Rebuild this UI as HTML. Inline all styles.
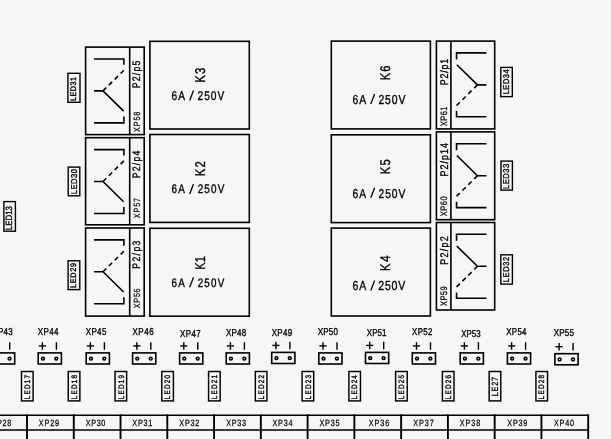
<!DOCTYPE html>
<html><head><meta charset="utf-8"><style>
html,body{margin:0;padding:0;background:#f6f6f6;}
svg{display:block;will-change:transform;}
text{font-family:"Liberation Sans",sans-serif;font-kerning:none;text-rendering:geometricPrecision;}
</style></head><body>
<svg width="611" height="439" viewBox="0 0 611 439">
<rect width="611" height="439" fill="#f6f6f6"/>
<rect x="85.60" y="47.10" width="58.60" height="87.50" fill="none" stroke="#000" stroke-width="1.6"/>
<line x1="129.70" y1="47.10" x2="129.70" y2="134.60" stroke="#000" stroke-width="1.6" />
<path d="M94.00,59.00 H123.90 V64.80" fill="none" stroke="#000" stroke-width="1.6" />
<path d="M123.90,70.30 L103.00,90.90" fill="none" stroke="#000" stroke-width="1.6" stroke-dasharray="4.6 3.65"/>
<path d="M94.00,90.90 H103.00 L123.60,111.10" fill="none" stroke="#000" stroke-width="1.6" />
<path d="M94.00,122.90 H123.90 V116.40" fill="none" stroke="#000" stroke-width="1.6" />
<rect x="85.60" y="137.70" width="58.60" height="87.10" fill="none" stroke="#000" stroke-width="1.6"/>
<line x1="129.70" y1="137.70" x2="129.70" y2="224.80" stroke="#000" stroke-width="1.6" />
<path d="M94.00,149.60 H123.90 V155.40" fill="none" stroke="#000" stroke-width="1.6" />
<path d="M123.90,160.90 L103.00,181.50" fill="none" stroke="#000" stroke-width="1.6" stroke-dasharray="4.6 3.65"/>
<path d="M94.00,181.50 H103.00 L123.60,201.70" fill="none" stroke="#000" stroke-width="1.6" />
<path d="M94.00,213.50 H123.90 V207.00" fill="none" stroke="#000" stroke-width="1.6" />
<rect x="85.60" y="228.00" width="58.60" height="88.10" fill="none" stroke="#000" stroke-width="1.6"/>
<line x1="129.70" y1="228.00" x2="129.70" y2="316.10" stroke="#000" stroke-width="1.6" />
<path d="M94.00,239.90 H123.90 V245.70" fill="none" stroke="#000" stroke-width="1.6" />
<path d="M123.90,251.20 L103.00,271.80" fill="none" stroke="#000" stroke-width="1.6" stroke-dasharray="4.6 3.65"/>
<path d="M94.00,271.80 H103.00 L123.60,292.00" fill="none" stroke="#000" stroke-width="1.6" />
<path d="M94.00,303.80 H123.90 V297.30" fill="none" stroke="#000" stroke-width="1.6" />
<rect x="436.40" y="41.10" width="58.30" height="87.80" fill="none" stroke="#000" stroke-width="1.6"/>
<line x1="450.90" y1="41.10" x2="450.90" y2="128.90" stroke="#000" stroke-width="1.6" />
<g transform="translate(465.55,84.90) rotate(180) translate(-114.90,-90.80)">
<path d="M94.00,58.90 H123.90 V64.70" fill="none" stroke="#000" stroke-width="1.6" />
<path d="M123.90,70.20 L103.00,90.80" fill="none" stroke="#000" stroke-width="1.6" stroke-dasharray="4.6 3.65"/>
<path d="M94.00,90.80 H103.00 L123.60,111.00" fill="none" stroke="#000" stroke-width="1.6" />
<path d="M94.00,122.80 H123.90 V116.30" fill="none" stroke="#000" stroke-width="1.6" />
</g>
<rect x="436.40" y="131.90" width="58.30" height="87.80" fill="none" stroke="#000" stroke-width="1.6"/>
<line x1="450.90" y1="131.90" x2="450.90" y2="219.70" stroke="#000" stroke-width="1.6" />
<g transform="translate(465.55,175.70) rotate(180) translate(-114.90,-90.80)">
<path d="M94.00,58.90 H123.90 V64.70" fill="none" stroke="#000" stroke-width="1.6" />
<path d="M123.90,70.20 L103.00,90.80" fill="none" stroke="#000" stroke-width="1.6" stroke-dasharray="4.6 3.65"/>
<path d="M94.00,90.80 H103.00 L123.60,111.00" fill="none" stroke="#000" stroke-width="1.6" />
<path d="M94.00,122.80 H123.90 V116.30" fill="none" stroke="#000" stroke-width="1.6" />
</g>
<rect x="436.40" y="222.50" width="58.30" height="87.50" fill="none" stroke="#000" stroke-width="1.6"/>
<line x1="450.90" y1="222.50" x2="450.90" y2="310.00" stroke="#000" stroke-width="1.6" />
<g transform="translate(465.55,266.30) rotate(180) translate(-114.90,-90.80)">
<path d="M94.00,58.90 H123.90 V64.70" fill="none" stroke="#000" stroke-width="1.6" />
<path d="M123.90,70.20 L103.00,90.80" fill="none" stroke="#000" stroke-width="1.6" stroke-dasharray="4.6 3.65"/>
<path d="M94.00,90.80 H103.00 L123.60,111.00" fill="none" stroke="#000" stroke-width="1.6" />
<path d="M94.00,122.80 H123.90 V116.30" fill="none" stroke="#000" stroke-width="1.6" />
</g>
<rect x="149.90" y="41.30" width="99.40" height="87.70" fill="none" stroke="#000" stroke-width="1.6"/>
<rect x="149.90" y="134.50" width="99.40" height="87.90" fill="none" stroke="#000" stroke-width="1.6"/>
<rect x="149.90" y="228.30" width="99.40" height="87.90" fill="none" stroke="#000" stroke-width="1.6"/>
<rect x="331.30" y="41.10" width="99.10" height="87.80" fill="none" stroke="#000" stroke-width="1.6"/>
<rect x="331.30" y="134.80" width="99.10" height="87.80" fill="none" stroke="#000" stroke-width="1.6"/>
<rect x="331.30" y="228.10" width="99.10" height="87.90" fill="none" stroke="#000" stroke-width="1.6"/>
<text transform="translate(204.82,82.76) rotate(-90) scale(0.800,1)" font-size="14.17" letter-spacing="1.51" fill="#000" stroke="#000" stroke-width="0.35">K3</text>
<text transform="translate(171.46,100.12) scale(0.800,1)" font-size="12.72" letter-spacing="1.27" fill="#000" stroke="#000" stroke-width="0.35">6A   250V</text>
<line x1="193.50" y1="90.50" x2="189.70" y2="100.50" stroke="#000" stroke-width="1.3" />
<text transform="translate(204.82,176.16) rotate(-90) scale(0.800,1)" font-size="14.17" letter-spacing="1.23" fill="#000" stroke="#000" stroke-width="0.35">K2</text>
<text transform="translate(171.47,193.42) scale(0.800,1)" font-size="12.43" letter-spacing="1.43" fill="#000" stroke="#000" stroke-width="0.35">6A   250V</text>
<line x1="193.50" y1="184.00" x2="189.70" y2="194.00" stroke="#000" stroke-width="1.3" />
<text transform="translate(204.82,269.74) rotate(-90) scale(0.785,1)" font-size="14.17" letter-spacing="0.00" fill="#000" stroke="#000" stroke-width="0.35">K1</text>
<text transform="translate(171.48,286.62) scale(0.800,1)" font-size="12.28" letter-spacing="1.51" fill="#000" stroke="#000" stroke-width="0.35">6A   250V</text>
<line x1="193.50" y1="277.30" x2="189.70" y2="287.30" stroke="#000" stroke-width="1.3" />
<text transform="translate(390.12,80.25) rotate(-90) scale(0.800,1)" font-size="14.03" letter-spacing="1.30" fill="#000" stroke="#000" stroke-width="0.35">K6</text>
<text transform="translate(352.55,103.83) scale(0.800,1)" font-size="13.01" letter-spacing="1.11" fill="#000" stroke="#000" stroke-width="0.35">6A   250V</text>
<line x1="374.60" y1="94.00" x2="370.80" y2="104.00" stroke="#000" stroke-width="1.3" />
<text transform="translate(390.12,174.15) rotate(-90) scale(0.800,1)" font-size="14.03" letter-spacing="1.52" fill="#000" stroke="#000" stroke-width="0.35">K5</text>
<text transform="translate(352.55,197.52) scale(0.800,1)" font-size="12.86" letter-spacing="1.19" fill="#000" stroke="#000" stroke-width="0.35">6A   250V</text>
<line x1="374.60" y1="187.80" x2="370.80" y2="197.80" stroke="#000" stroke-width="1.3" />
<text transform="translate(390.12,270.95) rotate(-90) scale(0.800,1)" font-size="14.03" letter-spacing="2.09" fill="#000" stroke="#000" stroke-width="0.35">K4</text>
<text transform="translate(352.54,290.32) scale(0.800,1)" font-size="13.15" letter-spacing="1.03" fill="#000" stroke="#000" stroke-width="0.35">6A   250V</text>
<line x1="374.60" y1="280.40" x2="370.80" y2="290.40" stroke="#000" stroke-width="1.3" />
<text transform="translate(139.72,88.34) rotate(-90) scale(0.800,1)" font-size="10.83" letter-spacing="1.59" fill="#000" stroke="#000" stroke-width="0.35">P2/p5</text>
<text transform="translate(139.72,178.34) rotate(-90) scale(0.800,1)" font-size="10.83" letter-spacing="1.59" fill="#000" stroke="#000" stroke-width="0.35">P2/p4</text>
<text transform="translate(139.72,268.74) rotate(-90) scale(0.800,1)" font-size="10.83" letter-spacing="1.72" fill="#000" stroke="#000" stroke-width="0.35">P2/p3</text>
<text transform="translate(139.89,132.05) rotate(-90) scale(0.800,1)" font-size="8.98" letter-spacing="1.16" fill="#000" stroke="#000" stroke-width="0.22">XP58</text>
<text transform="translate(139.89,218.15) rotate(-90) scale(0.800,1)" font-size="8.98" letter-spacing="1.09" fill="#000" stroke="#000" stroke-width="0.22">XP57</text>
<text transform="translate(139.89,308.15) rotate(-90) scale(0.800,1)" font-size="8.98" letter-spacing="0.91" fill="#000" stroke="#000" stroke-width="0.22">XP56</text>
<text transform="translate(447.72,85.15) rotate(-90) scale(0.800,1)" font-size="11.12" letter-spacing="0.99" fill="#000" stroke="#000" stroke-width="0.35">P2/p1</text>
<text transform="translate(447.72,176.45) rotate(-90) scale(0.800,1)" font-size="11.12" letter-spacing="1.31" fill="#000" stroke="#000" stroke-width="0.35">P2/p14</text>
<text transform="translate(447.72,264.75) rotate(-90) scale(0.800,1)" font-size="11.12" letter-spacing="1.65" fill="#000" stroke="#000" stroke-width="0.35">P2/p2</text>
<text transform="translate(446.79,126.16) rotate(-90) scale(0.800,1)" font-size="9.42" letter-spacing="0.54" fill="#000" stroke="#000" stroke-width="0.22">XP61</text>
<text transform="translate(446.79,216.26) rotate(-90) scale(0.800,1)" font-size="9.42" letter-spacing="0.59" fill="#000" stroke="#000" stroke-width="0.22">XP60</text>
<text transform="translate(446.79,305.96) rotate(-90) scale(0.800,1)" font-size="9.42" letter-spacing="0.49" fill="#000" stroke="#000" stroke-width="0.22">XP59</text>
<rect x="67.90" y="73.30" width="12.10" height="29.00" fill="none" stroke="#000" stroke-width="1.4"/>
<text transform="translate(75.73,101.02) rotate(-90) scale(0.900,1)" font-size="8.07" letter-spacing="0.53" fill="#000" stroke="#000" stroke-width="0.35">LED31</text>
<rect x="68.20" y="167.10" width="11.60" height="28.70" fill="none" stroke="#000" stroke-width="1.4"/>
<text transform="translate(76.83,194.15) rotate(-90) scale(0.900,1)" font-size="8.50" letter-spacing="0.49" fill="#000" stroke="#000" stroke-width="0.35">LED30</text>
<rect x="68.10" y="260.80" width="11.70" height="28.80" fill="none" stroke="#000" stroke-width="1.4"/>
<text transform="translate(75.73,288.12) rotate(-90) scale(0.900,1)" font-size="8.07" letter-spacing="0.83" fill="#000" stroke="#000" stroke-width="0.35">LED29</text>
<rect x="500.80" y="67.40" width="11.50" height="29.20" fill="none" stroke="#000" stroke-width="1.4"/>
<text transform="translate(509.02,94.34) rotate(-90) scale(0.900,1)" font-size="8.36" letter-spacing="0.58" fill="#000" stroke="#000" stroke-width="0.35">LED34</text>
<rect x="501.00" y="161.10" width="11.40" height="29.00" fill="none" stroke="#000" stroke-width="1.4"/>
<text transform="translate(509.12,189.05) rotate(-90) scale(0.900,1)" font-size="8.50" letter-spacing="0.50" fill="#000" stroke="#000" stroke-width="0.35">LED33</text>
<rect x="500.80" y="254.80" width="11.60" height="29.30" fill="none" stroke="#000" stroke-width="1.4"/>
<text transform="translate(508.82,282.14) rotate(-90) scale(0.900,1)" font-size="8.36" letter-spacing="0.62" fill="#000" stroke="#000" stroke-width="0.35">LED32</text>
<rect x="3.90" y="201.60" width="11.50" height="29.60" fill="none" stroke="#000" stroke-width="1.4"/>
<text transform="translate(12.12,230.17) rotate(-90) scale(0.869,1)" font-size="9.08" letter-spacing="0.00" fill="#000" stroke="#000" stroke-width="0.35">LED13</text>
<rect x="21.50" y="371.50" width="11.60" height="29.40" fill="none" stroke="#000" stroke-width="1.45"/>
<text transform="translate(30.02,399.24) rotate(-90) scale(0.800,1)" font-size="7.92" letter-spacing="1.53" fill="#000" stroke="#000" stroke-width="0.35">LED17</text>
<rect x="68.27" y="371.50" width="11.60" height="29.40" fill="none" stroke="#000" stroke-width="1.45"/>
<text transform="translate(76.79,399.24) rotate(-90) scale(0.800,1)" font-size="7.92" letter-spacing="1.52" fill="#000" stroke="#000" stroke-width="0.35">LED18</text>
<rect x="115.03" y="371.50" width="11.60" height="29.40" fill="none" stroke="#000" stroke-width="1.45"/>
<text transform="translate(123.56,399.24) rotate(-90) scale(0.800,1)" font-size="7.92" letter-spacing="1.53" fill="#000" stroke="#000" stroke-width="0.35">LED19</text>
<rect x="161.80" y="371.50" width="11.60" height="29.40" fill="none" stroke="#000" stroke-width="1.45"/>
<text transform="translate(170.33,399.24) rotate(-90) scale(0.800,1)" font-size="7.92" letter-spacing="1.51" fill="#000" stroke="#000" stroke-width="0.35">LED20</text>
<rect x="208.57" y="371.50" width="11.60" height="29.40" fill="none" stroke="#000" stroke-width="1.45"/>
<text transform="translate(217.09,399.24) rotate(-90) scale(0.800,1)" font-size="7.92" letter-spacing="1.53" fill="#000" stroke="#000" stroke-width="0.35">LED21</text>
<rect x="255.33" y="371.50" width="11.60" height="29.40" fill="none" stroke="#000" stroke-width="1.45"/>
<text transform="translate(263.86,399.24) rotate(-90) scale(0.800,1)" font-size="7.92" letter-spacing="1.53" fill="#000" stroke="#000" stroke-width="0.35">LED22</text>
<rect x="302.10" y="371.50" width="11.60" height="29.40" fill="none" stroke="#000" stroke-width="1.45"/>
<text transform="translate(310.62,399.24) rotate(-90) scale(0.800,1)" font-size="7.92" letter-spacing="1.52" fill="#000" stroke="#000" stroke-width="0.35">LED23</text>
<rect x="348.87" y="371.50" width="11.60" height="29.40" fill="none" stroke="#000" stroke-width="1.45"/>
<text transform="translate(357.39,399.24) rotate(-90) scale(0.800,1)" font-size="7.92" letter-spacing="1.49" fill="#000" stroke="#000" stroke-width="0.35">LED24</text>
<rect x="395.63" y="371.50" width="11.60" height="29.40" fill="none" stroke="#000" stroke-width="1.45"/>
<text transform="translate(404.16,399.24) rotate(-90) scale(0.800,1)" font-size="7.92" letter-spacing="1.52" fill="#000" stroke="#000" stroke-width="0.35">LED25</text>
<rect x="442.40" y="371.50" width="11.60" height="29.40" fill="none" stroke="#000" stroke-width="1.45"/>
<text transform="translate(450.93,399.24) rotate(-90) scale(0.800,1)" font-size="7.92" letter-spacing="1.52" fill="#000" stroke="#000" stroke-width="0.35">LED26</text>
<rect x="489.17" y="371.50" width="11.60" height="29.40" fill="none" stroke="#000" stroke-width="1.45"/>
<text transform="translate(497.72,396.14) rotate(-90) scale(0.800,1)" font-size="9.01" letter-spacing="0.92" fill="#000" stroke="#000" stroke-width="0.30">LE27</text>
<rect x="535.93" y="371.50" width="11.60" height="29.40" fill="none" stroke="#000" stroke-width="1.45"/>
<text transform="translate(544.46,399.24) rotate(-90) scale(0.800,1)" font-size="7.92" letter-spacing="1.52" fill="#000" stroke="#000" stroke-width="0.35">LED28</text>
<text transform="translate(-7.66,334.68) scale(0.800,1)" font-size="10.03" letter-spacing="0.31" fill="#000" stroke="#000" stroke-width="0.35">XP43</text>
<rect x="-8.50" y="352.90" width="23.20" height="11.10" fill="none" stroke="#000" stroke-width="1.6"/>
<circle cx="-3.80" cy="358.60" r="1.45" fill="none" stroke="#000" stroke-width="1.5"/>
<circle cx="9.60" cy="358.60" r="1.45" fill="none" stroke="#000" stroke-width="1.5"/>
<line x1="-7.90" y1="345.90" x2="-0.70" y2="345.90" stroke="#000" stroke-width="1.4" />
<line x1="-4.30" y1="342.20" x2="-4.30" y2="349.80" stroke="#000" stroke-width="1.4" />
<line x1="9.70" y1="342.20" x2="9.70" y2="349.80" stroke="#000" stroke-width="1.4" />
<text transform="translate(37.84,334.68) scale(0.800,1)" font-size="10.03" letter-spacing="0.39" fill="#000" stroke="#000" stroke-width="0.35">XP44</text>
<rect x="38.20" y="352.90" width="23.20" height="11.10" fill="none" stroke="#000" stroke-width="1.6"/>
<circle cx="42.90" cy="358.60" r="1.45" fill="none" stroke="#000" stroke-width="1.5"/>
<circle cx="56.30" cy="358.60" r="1.45" fill="none" stroke="#000" stroke-width="1.5"/>
<line x1="38.80" y1="345.90" x2="46.00" y2="345.90" stroke="#000" stroke-width="1.4" />
<line x1="42.40" y1="342.20" x2="42.40" y2="349.80" stroke="#000" stroke-width="1.4" />
<line x1="56.40" y1="342.20" x2="56.40" y2="349.80" stroke="#000" stroke-width="1.4" />
<text transform="translate(85.74,334.68) scale(0.800,1)" font-size="10.03" letter-spacing="0.43" fill="#000" stroke="#000" stroke-width="0.35">XP45</text>
<rect x="86.20" y="352.90" width="23.20" height="11.10" fill="none" stroke="#000" stroke-width="1.6"/>
<circle cx="90.90" cy="358.60" r="1.45" fill="none" stroke="#000" stroke-width="1.5"/>
<circle cx="104.30" cy="358.60" r="1.45" fill="none" stroke="#000" stroke-width="1.5"/>
<line x1="86.80" y1="345.90" x2="94.00" y2="345.90" stroke="#000" stroke-width="1.4" />
<line x1="90.40" y1="342.20" x2="90.40" y2="349.80" stroke="#000" stroke-width="1.4" />
<line x1="104.40" y1="342.20" x2="104.40" y2="349.80" stroke="#000" stroke-width="1.4" />
<text transform="translate(132.44,334.68) scale(0.800,1)" font-size="10.03" letter-spacing="0.65" fill="#000" stroke="#000" stroke-width="0.35">XP46</text>
<rect x="132.60" y="352.90" width="23.20" height="11.10" fill="none" stroke="#000" stroke-width="1.6"/>
<circle cx="137.30" cy="358.60" r="1.45" fill="none" stroke="#000" stroke-width="1.5"/>
<circle cx="150.70" cy="358.60" r="1.45" fill="none" stroke="#000" stroke-width="1.5"/>
<line x1="133.20" y1="345.90" x2="140.40" y2="345.90" stroke="#000" stroke-width="1.4" />
<line x1="136.80" y1="342.20" x2="136.80" y2="349.80" stroke="#000" stroke-width="1.4" />
<line x1="150.80" y1="342.20" x2="150.80" y2="349.80" stroke="#000" stroke-width="1.4" />
<text transform="translate(179.95,336.68) scale(0.800,1)" font-size="9.88" letter-spacing="0.58" fill="#000" stroke="#000" stroke-width="0.35">XP47</text>
<rect x="179.60" y="352.90" width="23.20" height="11.10" fill="none" stroke="#000" stroke-width="1.6"/>
<circle cx="184.30" cy="358.60" r="1.45" fill="none" stroke="#000" stroke-width="1.5"/>
<circle cx="197.70" cy="358.60" r="1.45" fill="none" stroke="#000" stroke-width="1.5"/>
<line x1="180.20" y1="345.90" x2="187.40" y2="345.90" stroke="#000" stroke-width="1.4" />
<line x1="183.80" y1="342.20" x2="183.80" y2="349.80" stroke="#000" stroke-width="1.4" />
<line x1="197.80" y1="342.20" x2="197.80" y2="349.80" stroke="#000" stroke-width="1.4" />
<text transform="translate(225.94,336.27) scale(0.800,1)" font-size="10.03" letter-spacing="0.27" fill="#000" stroke="#000" stroke-width="0.35">XP48</text>
<rect x="226.20" y="352.90" width="23.20" height="11.10" fill="none" stroke="#000" stroke-width="1.6"/>
<circle cx="230.90" cy="358.60" r="1.45" fill="none" stroke="#000" stroke-width="1.5"/>
<circle cx="244.30" cy="358.60" r="1.45" fill="none" stroke="#000" stroke-width="1.5"/>
<line x1="226.80" y1="345.90" x2="234.00" y2="345.90" stroke="#000" stroke-width="1.4" />
<line x1="230.40" y1="342.20" x2="230.40" y2="349.80" stroke="#000" stroke-width="1.4" />
<line x1="244.40" y1="342.20" x2="244.40" y2="349.80" stroke="#000" stroke-width="1.4" />
<text transform="translate(271.74,335.77) scale(0.800,1)" font-size="10.03" letter-spacing="0.33" fill="#000" stroke="#000" stroke-width="0.35">XP49</text>
<rect x="271.70" y="352.40" width="23.20" height="11.10" fill="none" stroke="#000" stroke-width="1.6"/>
<circle cx="276.40" cy="358.10" r="1.45" fill="none" stroke="#000" stroke-width="1.5"/>
<circle cx="289.80" cy="358.10" r="1.45" fill="none" stroke="#000" stroke-width="1.5"/>
<line x1="272.30" y1="345.40" x2="279.50" y2="345.40" stroke="#000" stroke-width="1.4" />
<line x1="275.90" y1="341.70" x2="275.90" y2="349.30" stroke="#000" stroke-width="1.4" />
<line x1="289.90" y1="341.70" x2="289.90" y2="349.30" stroke="#000" stroke-width="1.4" />
<text transform="translate(317.74,334.68) scale(0.800,1)" font-size="10.03" letter-spacing="0.26" fill="#000" stroke="#000" stroke-width="0.35">XP50</text>
<rect x="318.80" y="352.90" width="23.20" height="11.10" fill="none" stroke="#000" stroke-width="1.6"/>
<circle cx="323.50" cy="358.60" r="1.45" fill="none" stroke="#000" stroke-width="1.5"/>
<circle cx="336.90" cy="358.60" r="1.45" fill="none" stroke="#000" stroke-width="1.5"/>
<line x1="319.40" y1="345.90" x2="326.60" y2="345.90" stroke="#000" stroke-width="1.4" />
<line x1="323.00" y1="342.20" x2="323.00" y2="349.80" stroke="#000" stroke-width="1.4" />
<line x1="337.00" y1="342.20" x2="337.00" y2="349.80" stroke="#000" stroke-width="1.4" />
<text transform="translate(366.85,335.77) scale(0.796,1)" font-size="10.03" letter-spacing="0.00" fill="#000" stroke="#000" stroke-width="0.35">XP51</text>
<rect x="365.50" y="352.40" width="23.20" height="11.10" fill="none" stroke="#000" stroke-width="1.6"/>
<circle cx="370.20" cy="358.10" r="1.45" fill="none" stroke="#000" stroke-width="1.5"/>
<circle cx="383.60" cy="358.10" r="1.45" fill="none" stroke="#000" stroke-width="1.5"/>
<line x1="366.10" y1="345.40" x2="373.30" y2="345.40" stroke="#000" stroke-width="1.4" />
<line x1="369.70" y1="341.70" x2="369.70" y2="349.30" stroke="#000" stroke-width="1.4" />
<line x1="383.70" y1="341.70" x2="383.70" y2="349.30" stroke="#000" stroke-width="1.4" />
<text transform="translate(412.05,334.97) scale(0.800,1)" font-size="9.74" letter-spacing="0.52" fill="#000" stroke="#000" stroke-width="0.35">XP52</text>
<rect x="412.30" y="352.90" width="23.20" height="11.10" fill="none" stroke="#000" stroke-width="1.6"/>
<circle cx="417.00" cy="358.60" r="1.45" fill="none" stroke="#000" stroke-width="1.5"/>
<circle cx="430.40" cy="358.60" r="1.45" fill="none" stroke="#000" stroke-width="1.5"/>
<line x1="412.90" y1="345.90" x2="420.10" y2="345.90" stroke="#000" stroke-width="1.4" />
<line x1="416.50" y1="342.20" x2="416.50" y2="349.80" stroke="#000" stroke-width="1.4" />
<line x1="430.50" y1="342.20" x2="430.50" y2="349.80" stroke="#000" stroke-width="1.4" />
<text transform="translate(461.15,336.68) scale(0.800,1)" font-size="9.88" letter-spacing="0.06" fill="#000" stroke="#000" stroke-width="0.35">XP53</text>
<rect x="460.20" y="352.90" width="23.20" height="11.10" fill="none" stroke="#000" stroke-width="1.6"/>
<circle cx="464.90" cy="358.60" r="1.45" fill="none" stroke="#000" stroke-width="1.5"/>
<circle cx="478.30" cy="358.60" r="1.45" fill="none" stroke="#000" stroke-width="1.5"/>
<line x1="460.80" y1="345.90" x2="468.00" y2="345.90" stroke="#000" stroke-width="1.4" />
<line x1="464.40" y1="342.20" x2="464.40" y2="349.80" stroke="#000" stroke-width="1.4" />
<line x1="478.40" y1="342.20" x2="478.40" y2="349.80" stroke="#000" stroke-width="1.4" />
<text transform="translate(506.25,335.38) scale(0.800,1)" font-size="9.88" letter-spacing="0.38" fill="#000" stroke="#000" stroke-width="0.35">XP54</text>
<rect x="507.40" y="352.90" width="23.20" height="11.10" fill="none" stroke="#000" stroke-width="1.6"/>
<circle cx="512.10" cy="358.60" r="1.45" fill="none" stroke="#000" stroke-width="1.5"/>
<circle cx="525.50" cy="358.60" r="1.45" fill="none" stroke="#000" stroke-width="1.5"/>
<line x1="508.00" y1="345.90" x2="515.20" y2="345.90" stroke="#000" stroke-width="1.4" />
<line x1="511.60" y1="342.20" x2="511.60" y2="349.80" stroke="#000" stroke-width="1.4" />
<line x1="525.60" y1="342.20" x2="525.60" y2="349.80" stroke="#000" stroke-width="1.4" />
<text transform="translate(553.74,336.27) scale(0.800,1)" font-size="10.03" letter-spacing="0.27" fill="#000" stroke="#000" stroke-width="0.35">XP55</text>
<rect x="554.90" y="353.70" width="23.20" height="11.10" fill="none" stroke="#000" stroke-width="1.6"/>
<circle cx="559.60" cy="359.40" r="1.45" fill="none" stroke="#000" stroke-width="1.5"/>
<circle cx="573.00" cy="359.40" r="1.45" fill="none" stroke="#000" stroke-width="1.5"/>
<line x1="555.50" y1="346.70" x2="562.70" y2="346.70" stroke="#000" stroke-width="1.4" />
<line x1="559.10" y1="343.00" x2="559.10" y2="350.60" stroke="#000" stroke-width="1.4" />
<line x1="573.10" y1="343.00" x2="573.10" y2="350.60" stroke="#000" stroke-width="1.4" />
<line x1="-1.00" y1="415.30" x2="588.90" y2="415.30" stroke="#000" stroke-width="1.6" />
<line x1="-1.00" y1="429.95" x2="588.90" y2="429.95" stroke="#000" stroke-width="1.5" />
<line x1="27.00" y1="414.30" x2="27.00" y2="440.00" stroke="#000" stroke-width="1.9" />
<line x1="73.77" y1="414.30" x2="73.77" y2="440.00" stroke="#000" stroke-width="1.9" />
<line x1="120.53" y1="414.30" x2="120.53" y2="440.00" stroke="#000" stroke-width="1.9" />
<line x1="167.30" y1="414.30" x2="167.30" y2="440.00" stroke="#000" stroke-width="1.9" />
<line x1="214.07" y1="414.30" x2="214.07" y2="440.00" stroke="#000" stroke-width="1.9" />
<line x1="260.83" y1="414.30" x2="260.83" y2="440.00" stroke="#000" stroke-width="1.9" />
<line x1="307.60" y1="414.30" x2="307.60" y2="440.00" stroke="#000" stroke-width="1.9" />
<line x1="354.37" y1="414.30" x2="354.37" y2="440.00" stroke="#000" stroke-width="1.9" />
<line x1="401.13" y1="414.30" x2="401.13" y2="440.00" stroke="#000" stroke-width="1.9" />
<line x1="447.90" y1="414.30" x2="447.90" y2="440.00" stroke="#000" stroke-width="1.9" />
<line x1="494.67" y1="414.30" x2="494.67" y2="440.00" stroke="#000" stroke-width="1.9" />
<line x1="541.43" y1="414.30" x2="541.43" y2="440.00" stroke="#000" stroke-width="1.9" />
<line x1="588.20" y1="414.30" x2="588.20" y2="440.00" stroke="#000" stroke-width="1.9" />
<text transform="translate(-8.64,425.68) scale(0.800,1)" font-size="9.08" letter-spacing="0.90" fill="#000" stroke="#000" stroke-width="0.25">XP28</text>
<text transform="translate(38.76,425.68) scale(0.800,1)" font-size="9.08" letter-spacing="1.07" fill="#000" stroke="#000" stroke-width="0.25">XP29</text>
<text transform="translate(85.76,425.68) scale(0.800,1)" font-size="9.08" letter-spacing="0.76" fill="#000" stroke="#000" stroke-width="0.25">XP30</text>
<text transform="translate(132.36,425.68) scale(0.800,1)" font-size="9.08" letter-spacing="0.87" fill="#000" stroke="#000" stroke-width="0.25">XP31</text>
<text transform="translate(179.36,425.68) scale(0.800,1)" font-size="9.08" letter-spacing="0.88" fill="#000" stroke="#000" stroke-width="0.25">XP32</text>
<text transform="translate(226.16,425.68) scale(0.800,1)" font-size="9.08" letter-spacing="0.86" fill="#000" stroke="#000" stroke-width="0.25">XP33</text>
<text transform="translate(272.46,425.68) scale(0.800,1)" font-size="9.08" letter-spacing="0.98" fill="#000" stroke="#000" stroke-width="0.25">XP34</text>
<text transform="translate(319.56,425.68) scale(0.800,1)" font-size="9.08" letter-spacing="0.89" fill="#000" stroke="#000" stroke-width="0.25">XP35</text>
<text transform="translate(368.66,425.68) scale(0.800,1)" font-size="9.08" letter-spacing="1.23" fill="#000" stroke="#000" stroke-width="0.25">XP36</text>
<text transform="translate(413.36,425.68) scale(0.800,1)" font-size="9.08" letter-spacing="1.13" fill="#000" stroke="#000" stroke-width="0.25">XP37</text>
<text transform="translate(459.66,425.68) scale(0.800,1)" font-size="9.08" letter-spacing="1.23" fill="#000" stroke="#000" stroke-width="0.25">XP38</text>
<text transform="translate(507.36,425.68) scale(0.800,1)" font-size="9.08" letter-spacing="0.87" fill="#000" stroke="#000" stroke-width="0.25">XP39</text>
<text transform="translate(553.96,425.68) scale(0.800,1)" font-size="9.08" letter-spacing="1.01" fill="#000" stroke="#000" stroke-width="0.25">XP40</text>
</svg>
</body></html>
